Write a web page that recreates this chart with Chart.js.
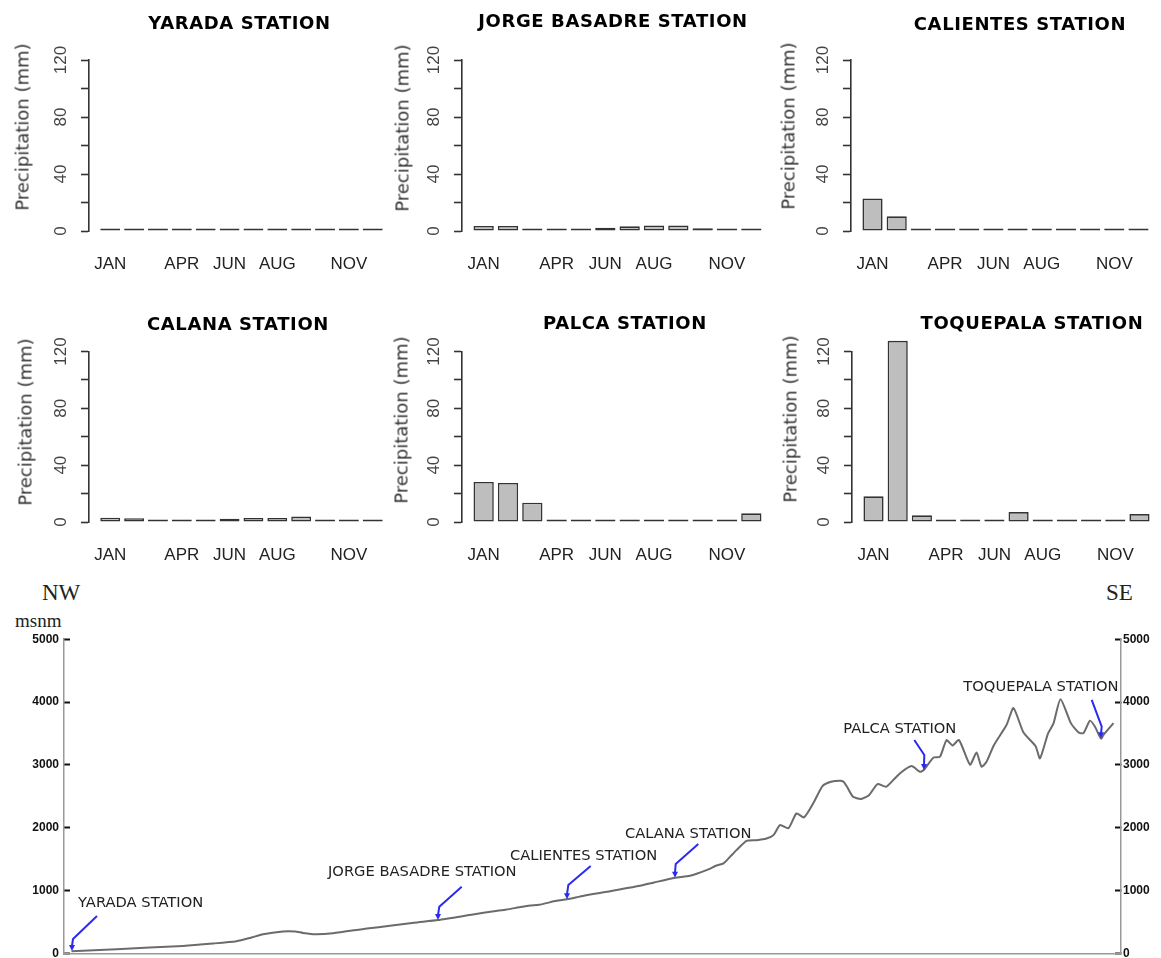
<!DOCTYPE html>
<html>
<head>
<meta charset="utf-8">
<script src="https://cdn.jsdelivr.net/npm/chart.js@4.4.1/dist/chart.umd.min.js"></script>
<style>
  html, body { margin: 0; padding: 0; background: #fff; }
  body { width: 1161px; height: 958px; position: relative; overflow: hidden; }
  canvas { position: absolute; }
  .ttl { position: absolute; font: bold 18px "DejaVu Sans", sans-serif; letter-spacing: 0.6px; color: #000; white-space: nowrap; transform: translate(-50%, -50%); }
  .ylab { position: absolute; font: 18px "DejaVu Sans", sans-serif; color: #333; white-space: nowrap; transform: translate(-50%, -50%) rotate(-90deg); }
  .serif { position: absolute; font-family: "Liberation Serif", serif; color: #222; white-space: nowrap; line-height: 1; }
</style>
</head>
<body>
<div class="serif" style="left:42px; top:581px; font-size:23px;">NW</div>
<div class="serif" style="left:1106px; top:581px; font-size:23px;">SE</div>
<div class="serif" style="left:15px; top:611px; font-size:19px;">msnm</div>
<script>
// ---- monthly precipitation (mm) per station ----
const months = ['JAN', 'FEB', 'MAR', 'APR', 'MAY', 'JUN', 'JUL', 'AUG', 'SEP', 'OCT', 'NOV', 'DEC'];
const shownMonths = ['JAN', 'APR', 'JUN', 'AUG', 'NOV'];
const stationNames = ['YARADA STATION', 'JORGE BASADRE STATION', 'CALIENTES STATION',
                      'CALANA STATION', 'PALCA STATION', 'TOQUEPALA STATION'];
const yaradaPrecip       = [0.2, 0.6, 0.8, 0.3, 0.6, 1.8, 0.8, 0.8, 0.8, 0.8, 0.4, 0.3];
const jorgeBasadrePrecip = [3.5, 3.5, 0.5, 0.4, 0.4, 2.2, 3.3, 3.8, 3.8, 2.0, 1.0, 1.2];
const calientesPrecip    = [22.8, 10.3, 0.2, 0.2, 0.2, 0.3, 1.5, 0.2, 0.2, 0.6, 1.3, 0.5];
const calanaPrecip       = [3.0, 2.7, 0.8, 0.8, 1.2, 2.3, 2.8, 2.8, 3.8, 1.3, 1.3, 1.2];
const palcaPrecip        = [28.2, 27.5, 13.6, 0.6, 0.6, 0.6, 0.6, 0.6, 0.6, 0.6, 0.6, 6.1];
const toquepalaPrecip    = [18.1, 127.5, 4.7, 1.8, 0.3, 1.8, 7.0, 0.3, 0.3, 0.6, 0.6, 5.6];
const precipLabelTicks = [0, 40, 80, 120];

// ---- NW-SE elevation profile (distance along transect in km, elevation in m a.s.l.) ----
const profileKm = [1.5, 10.5, 23.8, 29.8, 34.5, 37.2, 39.8, 43.8, 46.2, 47.8, 50.2, 53.8, 60.6, 65.2, 70, 74.8,
  81.8, 86, 88.5, 91, 93.2, 95, 98.5, 100.6, 104, 108.5, 115.2, 118, 122.2, 125.2, 128.5, 130.5, 131.9,
  133.2, 134.5, 136.5, 138.5, 140.5, 141.9, 143.2, 144.9, 146.5, 148, 149.9, 151.7, 153.4, 155.2, 155.9,
  156.6, 157.8, 159.4, 161, 162.7, 164.4, 165.9, 167.4, 169.5, 171.2, 172, 173.9, 175.2, 176.5, 177.7,
  179, 181.2, 182.5, 183.5, 184.5, 186, 188.5, 189.9, 191.9, 194.3, 195.2, 196.8, 197.9, 199.3, 201.4,
  203, 203.9, 205.2, 206.2, 207.4, 208, 209.9];
const profileElev = [37, 68, 121, 159, 196, 248, 307, 350, 350, 328, 307, 323, 398, 440, 490, 533,
  621, 672, 700, 735, 764, 775, 838, 862, 920, 981, 1077, 1130, 1206, 1236, 1326, 1400, 1433,
  1538, 1645, 1793, 1804, 1831, 1884, 2043, 1995, 2229, 2166, 2398, 2665, 2733, 2749, 2733,
  2653, 2494, 2460, 2520, 2696, 2653, 2765, 2880, 2982, 2892, 2925, 3118, 3131, 3395, 3310,
  3397, 3005, 3197, 2972, 3050, 3317, 3635, 3906, 3516, 3301, 3105, 3500, 3662, 4047, 3662,
  3513, 3508, 3704, 3608, 3420, 3490, 3667];
const stationKm   = [1.6, 74.8, 100.6, 122.2, 172, 207.4];
const stationElev = [40, 533, 862, 1206, 2920, 3425];
const elevTicks = [0, 1000, 2000, 3000, 4000, 5000];

const precipSeries = [yaradaPrecip, jorgeBasadrePrecip, calientesPrecip, calanaPrecip, palcaPrecip, toquepalaPrecip];

// ---- panel geometry ----
const rowLayout = [
  { top: 0,   areaTop: 60,    areaBottom: 231, height: 290 },
  { top: 296, areaTop: 351.5, areaBottom: 522, height: 280 }
];
const panelLayout = [
  { axisX: 88.5,  areaW: 305, row: 0, title: [239.5, 22], ylab: [21.7, 126.7] },
  { axisX: 461.5, areaW: 311, row: 0, title: [613, 20],   ylab: [401.7, 127.5] },
  { axisX: 851,   areaW: 309, row: 0, title: [1020, 23],  ylab: [788, 126] },
  { axisX: 88.5,  areaW: 305, row: 1, title: [238, 323],  ylab: [25, 421.7] },
  { axisX: 461.5, areaW: 311, row: 1, title: [625, 322],  ylab: [400.7, 420] },
  { axisX: 851.5, areaW: 309, row: 1, title: [1032, 322], ylab: [790, 419] }
];
const Y_SCALE_W = 80;

// bar centres follow the usual barplot convention: width 1, gap 0.2
const barPos = i => 0.7 + 1.2 * i;
const X_MIN = -0.368, X_MAX = 14.968;

function addText(cls, text, x, y) {
  const d = document.createElement('div');
  d.className = cls;
  d.textContent = text;
  d.style.left = x + 'px';
  d.style.top = y + 'px';
  document.body.appendChild(d);
}

panelLayout.forEach((p, idx) => {
  const r = rowLayout[p.row];
  const c = document.createElement('canvas');
  const w = Y_SCALE_W + p.areaW + 2;
  c.width = w;
  c.height = r.height;
  c.style.left = (p.axisX - Y_SCALE_W) + 'px';
  c.style.top = r.top + 'px';
  c.style.width = w + 'px';
  c.style.height = r.height + 'px';
  document.body.appendChild(c);

  addText('ttl', stationNames[idx], p.title[0], p.title[1]);
  addText('ylab', 'Precipitation (mm)', p.ylab[0], p.ylab[1]);

  const values = precipSeries[idx];
  new Chart(c, {
    type: 'bar',
    data: {
      datasets: [{
        data: values.map((v, i) => ({ x: barPos(i), y: v })),
        backgroundColor: '#bebebe',
        borderColor: '#333333',
        borderWidth: 1.6,
        borderSkipped: false,
        minBarLength: 2.5,
        barPercentage: 1,
        categoryPercentage: 1 / 1.2,
        clip: false
      }]
    },
    options: {
      responsive: false,
      animation: false,
      events: [],
      layout: { padding: { top: r.areaTop - r.top, right: 2, bottom: 0, left: 0 } },
      plugins: { legend: { display: false }, tooltip: { enabled: false }, title: { display: false } },
      scales: {
        x: {
          type: 'linear',
          min: X_MIN,
          max: X_MAX,
          offset: false,
          grid: { display: false, drawTicks: false },
          border: { display: false },
          afterBuildTicks: s => { s.ticks = shownMonths.map(m => ({ value: barPos(months.indexOf(m)) })); },
          ticks: {
            autoSkip: false,
            maxRotation: 0,
            padding: 23,
            color: '#222',
            font: { family: 'Liberation Sans', size: 17 },
            callback: v => months[Math.round((v - 0.7) / 1.2)]
          },
          afterFit: s => { s.height = (r.top + r.height) - r.areaBottom; }
        },
        y: {
          type: 'linear',
          min: 0,
          max: 120,
          grid: { drawOnChartArea: false, drawTicks: true, tickLength: 8, tickWidth: 1.6, tickColor: '#333' },
          border: { display: true, color: '#333', width: 1.6 },
          ticks: {
            stepSize: 20,
            autoSkip: false,
            minRotation: 90,
            maxRotation: 90,
            crossAlign: 'center',
            padding: 6,
            color: '#444',
            font: { family: 'Liberation Sans', size: 17 },
            callback: v => precipLabelTicks.includes(v) ? String(v) : ''
          },
          afterFit: s => { s.width = Y_SCALE_W; s.paddingTop = 0; s.paddingBottom = 0; }
        }
      }
    }
  });
});

// ---- elevation profile ----
const calloutLayout = [
  { start: [25, -35],     bend: [1, -12],    label: [6, -48] },
  { start: [23.7, -33.3], bend: [1.3, -13.3], label: [-110, -48.3] },
  { start: [23.7, -33.3], bend: [1.3, -14.3], label: [-57, -43.3] },
  { start: [23.3, -33.7], bend: [0.7, -13.7], label: [-50, -43.7] },
  { start: [-9.7, -30],   bend: [0.3, -15],  label: [-80.7, -40.7] },
  { start: [-9.3, -38.3], bend: [0.7, -11.6], label: [-137.7, -51] }
];

const stationMarkers = {
  id: 'stationMarkers',
  afterDatasetsDraw(chart) {
    const { ctx } = chart;
    const xs = chart.scales.x, ys = chart.scales.y;
    ctx.save();
    stationNames.forEach((name, i) => {
      const tx = xs.getPixelForValue(stationKm[i]);
      const ty = ys.getPixelForValue(stationElev[i]);
      const g = calloutLayout[i];
      ctx.strokeStyle = '#2b2bf0';
      ctx.fillStyle = '#2b2bf0';
      ctx.lineWidth = 2;
      ctx.lineJoin = 'round';
      ctx.beginPath();
      ctx.moveTo(tx + g.start[0], ty + g.start[1]);
      ctx.lineTo(tx + g.bend[0], ty + g.bend[1]);
      ctx.lineTo(tx, ty - 5);
      ctx.stroke();
      ctx.beginPath();
      ctx.moveTo(tx - 3, ty - 6);
      ctx.lineTo(tx + 3, ty - 6);
      ctx.lineTo(tx, ty);
      ctx.closePath();
      ctx.fill();
      ctx.fillStyle = '#222';
      ctx.font = '14.7px "DejaVu Sans"';
      ctx.textAlign = 'left';
      ctx.textBaseline = 'middle';
      ctx.fillText(name, tx + g.label[0], ty + g.label[1]);
    });
    ctx.restore();
  }
};

const pc = document.createElement('canvas');
pc.width = 1161; pc.height = 383;
pc.style.left = '0px'; pc.style.top = '575px';
pc.style.width = '1161px'; pc.style.height = '383px';
document.body.appendChild(pc);

const elevAxis = (pos, pad, width) => ({
  type: 'linear',
  position: pos,
  min: 0,
  max: 5000,
  grid: { drawOnChartArea: false, drawTicks: true, tickLength: -6, tickWidth: 2, tickColor: '#111' },
  border: { display: true, color: '#9a9a9a', width: 1.5 },
  ticks: {
    stepSize: 1000,
    autoSkip: false,
    padding: pad,
    color: '#111',
    font: { family: 'Liberation Sans', size: 12, weight: 'bold' },
    callback: v => elevTicks.includes(v) ? String(v) : ''
  },
  afterFit: s => { s.width = width; s.paddingTop = 0; s.paddingBottom = 0; }
});

new Chart(pc, {
  type: 'line',
  data: {
    datasets: [{
      data: profileKm.map((k, i) => ({ x: k, y: profileElev[i] })),
      borderColor: '#6b6b6b',
      borderWidth: 2,
      pointRadius: 0,
      tension: 0.2,
      yAxisID: 'y'
    }]
  },
  options: {
    responsive: false,
    animation: false,
    events: [],
    layout: { padding: { top: 64.3, right: 0, bottom: 3.5, left: 0 } },
    plugins: { legend: { display: false }, tooltip: { enabled: false } },
    scales: {
      x: {
        type: 'linear',
        min: 0,
        max: 211.4,
        ticks: { display: false },
        grid: { display: false, drawTicks: false },
        border: { display: true, color: '#9a9a9a', width: 1.5 },
        afterFit: s => { s.height = 1; s.paddingLeft = 0; s.paddingRight = 0; }
      },
      y: elevAxis('left', 11, 64),
      y2: elevAxis('right', 8, 40)
    }
  },
  plugins: [stationMarkers]
});
</script>
</body>
</html>
